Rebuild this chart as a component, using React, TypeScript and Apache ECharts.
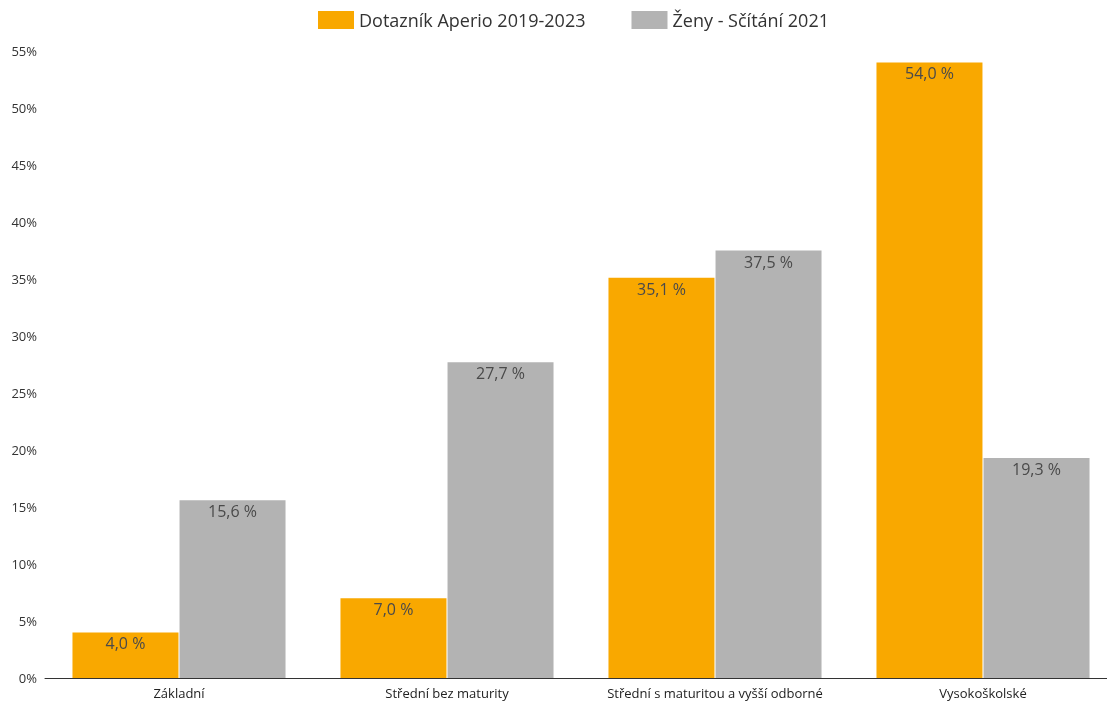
import React, { useEffect, useRef } from "react";
import * as echarts from "echarts";

const categories = ["Základní", "Střední bez maturity", "Střední s maturitou a vyšší odborné", "Vysokoškolské"];
const aperio = [4.0, 7.0, 35.1, 54.0];
const zeny = [15.6, 27.7, 37.5, 19.3];
const seriesNames = ["Dotazník Aperio 2019-2023", "Ženy - Sčítání 2021"];

const FONT = "Open Sans";

export default function App() {
  const ref = useRef<HTMLDivElement>(null);
  useEffect(() => {
    const chart = echarts.init(ref.current!, null, { renderer: "svg" });
    const label = {
      show: true,
      position: "insideTop",
      distance: 3,
      color: "#4a4a4a",
      fontSize: 16,
      fontFamily: FONT,
      formatter: (p: any) => p.value.toFixed(1).replace(".", ",") + " %",
    };
    chart.setOption({
      animation: false,
      textStyle: { fontFamily: FONT },
      legend: {
        top: 6,
        left: 313,
        itemWidth: 36,
        itemHeight: 18,
        itemGap: 46,
        itemTextGap: 8,
        icon: "rect",
        textStyle: { fontSize: 18, color: "#333", fontFamily: FONT },
        data: seriesNames,
      },
      grid: { left: 45, right: 0, top: 51, bottom: 26, containLabel: false },
      xAxis: {
        type: "category",
        data: categories,
        axisLine: { lineStyle: { color: "#333", width: 1 } },
        axisTick: { show: false },
        axisLabel: { color: "#222", fontSize: 13, margin: 8, fontFamily: FONT, interval: 0 },
      },
      yAxis: {
        type: "value",
        min: 0,
        max: 55,
        interval: 5,
        splitLine: { show: false },
        axisLine: { show: false },
        axisTick: { show: false },
        axisLabel: { formatter: "{value}%", color: "#333", fontSize: 13, margin: 8, align: "right", fontFamily: FONT },
      },
      series: [
        {
          name: seriesNames[0],
          type: "bar",
          data: aperio,
          barWidth: 106,
          barGap: "1%",
          itemStyle: { color: "#F9A800" },
          label,
        },
        {
          name: seriesNames[1],
          type: "bar",
          data: zeny,
          barWidth: 106,
          itemStyle: { color: "#B3B3B3" },
          label,
        },
      ],
    });
    return () => chart.dispose();
  }, []);
  return (
    <div style={{ position: "fixed", left: 0, top: 0, width: 1107, height: 704, overflow: "hidden" }}>
      <div ref={ref} style={{ width: 1117, height: 704 }} />
    </div>
  );
}
